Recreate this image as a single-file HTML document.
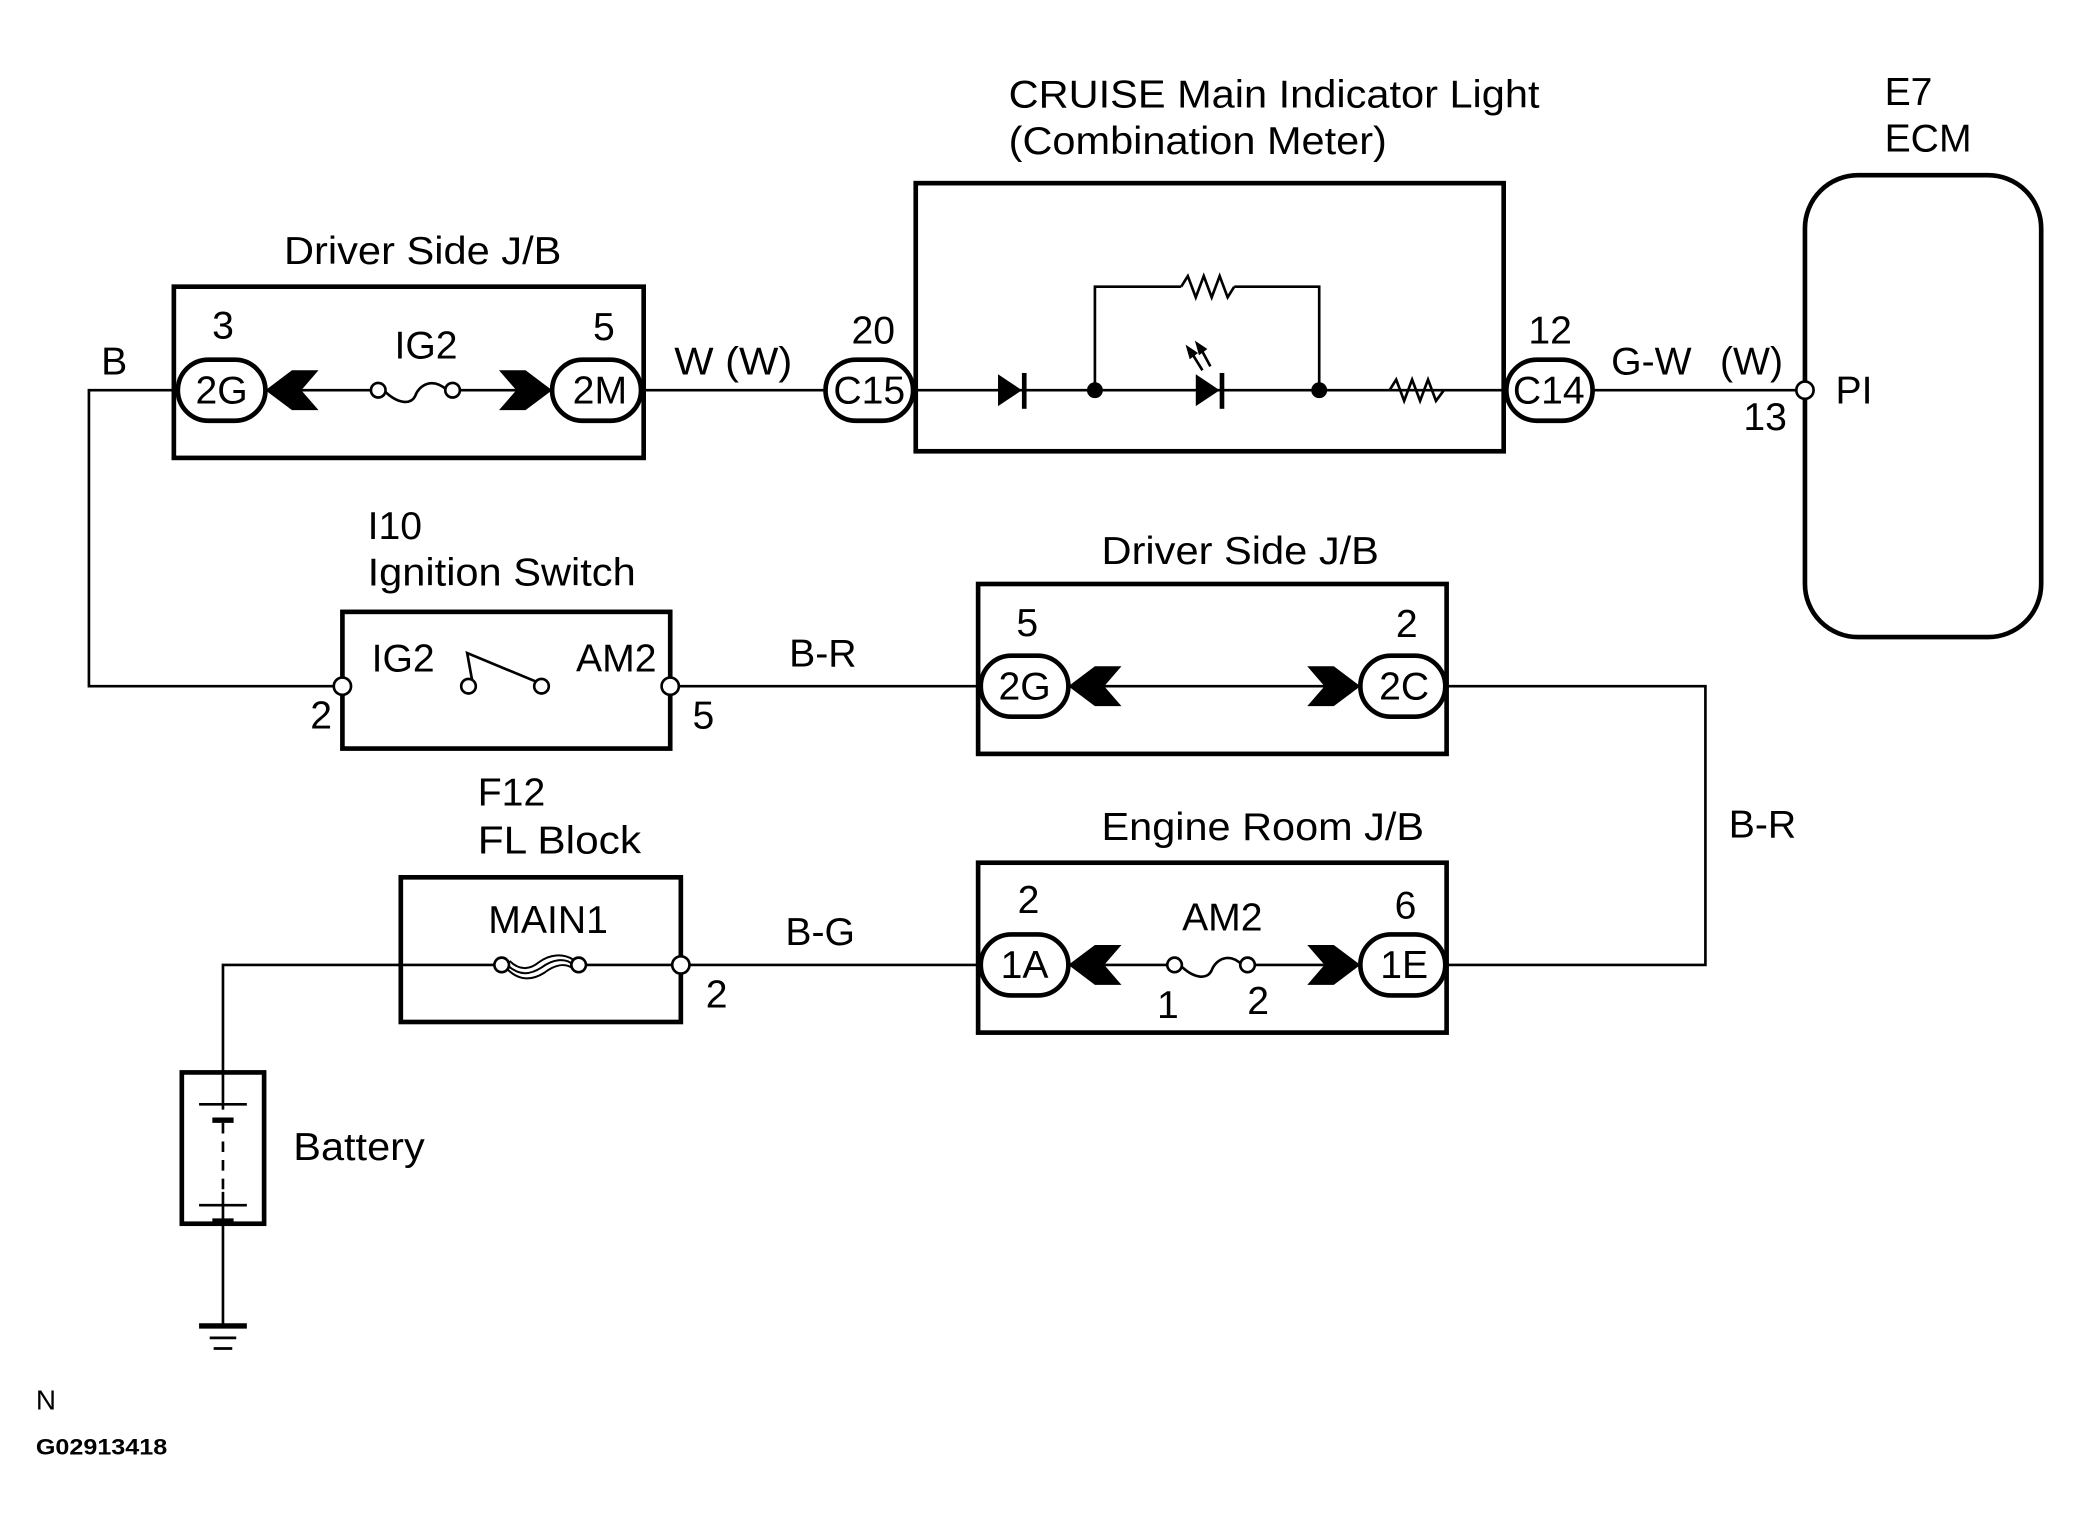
<!DOCTYPE html>
<html><head><style>html,body{margin:0;padding:0;background:#fff}svg{display:block}</style></head>
<body>
<svg width="2081" height="1529" viewBox="0 0 1568 1152" preserveAspectRatio="none" xmlns="http://www.w3.org/2000/svg" font-family="Liberation Sans, Arial, sans-serif" font-size="29.5">
<rect width="1568" height="1152" fill="#fff"/>
<defs>
<g id="chl"><path d="M0,0 L20,-15 L40,-15 L27,0 L40,15 L20,15 Z" fill="#000"/></g>
<g id="chr"><path d="M0,0 L-20,-15 L-40,-15 L-27,0 L-40,15 L-20,15 Z" fill="#000"/></g>
</defs>
<g fill="none" stroke="#000">
<g stroke-width="3.5">
<rect x="131" y="216" width="354" height="129"/>
<rect x="690" y="138" width="443" height="202"/>
<rect x="1360" y="132" width="178" height="348" rx="40"/>
<rect x="258" y="461" width="247" height="103"/>
<rect x="737" y="440" width="353" height="128"/>
<rect x="737" y="650" width="353" height="128"/>
<rect x="302" y="661" width="211" height="109"/>
<rect x="137" y="808" width="62" height="114"/>
</g>
<g stroke-width="2">
<path d="M133,294 H67 V517 H258"/>
<path d="M200,294 H285 M341,294 H416"/>
<path d="M485,294 H622"/>
<path d="M688,294 H1135"/>
<path d="M825,294 V216 H890 M930,216 H994 V294"/>
<path d="M1200,294 H1356"/>
<path d="M505,517 H738 M805,517 H1025 M1090,517 H1285 V727 H1090"/>
<path d="M1025,727 H945 M880,727 H805"/>
<path d="M513,727 H738"/>
<path d="M168,808 V727 H374 M441,727 H509"/>
<path d="M168,922 V998"/>
<path d="M168,808 V836 M168,922 V898"/>
<path d="M289,294 C300,305 310,305 313,298 C316,290 326,284 337,294"/>
<path d="M889,727 C900,738 910,738 913,731 C916,723 926,717 936,727"/>
<path d="M382,727 C392,736 400,734 408,729 C416,723 426,721 432,727 M382,730 C392,740 402,738 410,733 C418,727 426,725 432,730 M384,724 C392,732 400,730 406,725 C414,719 424,718 432,723" stroke-width="1.5"/>
<path d="M890,216 L895,208 L901,224 L907,208 L913,224 L919,208 L925,224 L930,216"/>
<path d="M1047,294 L1052,286 L1058,302 L1064,286 L1070,302 L1076,286 L1082,302 L1088,294"/>
<path d="M356,514 L352,492 L405,514" stroke-width="2"/>
<path d="M150,832 H186 M150,908 H186"/>
<path d="M168,846 V900" stroke-dasharray="8,6"/>
<path d="M158,1008 H178 M161,1016 H175"/>
</g>
<path d="M160,844 H176 M160,920 H176" stroke="#000" stroke-width="4" fill="none"/>
<path d="M150,999 H186" stroke="#000" stroke-width="4" fill="none"/>
<g stroke-width="3.5" fill="#fff">
<rect x="134" y="271" width="66" height="46" rx="23"/>
<rect x="416" y="271" width="67" height="46" rx="23"/>
<rect x="622" y="271" width="66" height="46" rx="23"/>
<rect x="1135" y="271" width="65" height="46" rx="23"/>
<rect x="739" y="494" width="66" height="46" rx="23"/>
<rect x="1025" y="494" width="64" height="46" rx="23"/>
<rect x="739" y="704" width="66" height="46" rx="23"/>
<rect x="1025" y="704" width="64" height="46" rx="23"/>
</g>
<g stroke-width="2" fill="#fff">
<circle cx="285" cy="294" r="5.5"/><circle cx="341" cy="294" r="5.5"/>
<circle cx="1360" cy="294" r="6.5"/>
<circle cx="258" cy="517" r="6.5"/><circle cx="505" cy="517" r="6.5"/>
<circle cx="353" cy="517" r="5.5"/><circle cx="408" cy="517" r="5.5"/>
<circle cx="885" cy="727" r="5.5"/><circle cx="940" cy="727" r="5.5"/>
<circle cx="378" cy="727" r="5.5"/><circle cx="436" cy="727" r="5.5"/>
<circle cx="513" cy="727" r="6.5"/>
</g>
</g>
<use href="#chl" x="200" y="294"/><use href="#chr" x="416" y="294"/>
<use href="#chl" x="805" y="517"/><use href="#chr" x="1025" y="517"/>
<use href="#chl" x="805" y="727"/><use href="#chr" x="1025" y="727"/>
<path d="M752,282 L770,294 L752,306 Z" fill="#000"/><rect x="770" y="281" width="3.5" height="27" fill="#000"/>
<path d="M901,282 L919,294 L901,306 Z" fill="#000"/><rect x="919" y="281" width="3.5" height="27" fill="#000"/>
<path d="M906,279 L898,266 M912,276 L905,263" stroke="#000" stroke-width="2"/>
<path d="M895,262 L901,266 L897,269 Z M902,259 L908,263 L904,266 Z" fill="#000" stroke="#000" stroke-width="2"/>
<circle cx="825" cy="294" r="6" fill="#000"/><circle cx="994" cy="294" r="6" fill="#000"/>
<g fill="#000">
<text x="214" y="199" textLength="209" lengthAdjust="spacingAndGlyphs">Driver Side J/B</text>
<text x="168" y="255" text-anchor="middle">3</text>
<text x="455" y="256" text-anchor="middle">5</text>
<text x="321" y="270" text-anchor="middle">IG2</text>
<text x="167" y="304" text-anchor="middle">2G</text>
<text x="452" y="304" text-anchor="middle">2M</text>
<text x="86" y="282" text-anchor="middle">B</text>
<text x="508" y="282" textLength="89" lengthAdjust="spacingAndGlyphs">W (W)</text>
<text x="658" y="259" text-anchor="middle">20</text>
<text x="655" y="304" text-anchor="middle">C15</text>
<text x="760" y="81" textLength="400" lengthAdjust="spacingAndGlyphs">CRUISE Main Indicator Light</text>
<text x="760" y="116" textLength="285" lengthAdjust="spacingAndGlyphs">(Combination Meter)</text>
<text x="1168" y="259" text-anchor="middle">12</text>
<text x="1167" y="304" text-anchor="middle">C14</text>
<text x="1214" y="282">G-W</text>
<text x="1296" y="282">(W)</text>
<text x="1330" y="324" text-anchor="middle">13</text>
<text x="1383" y="304">PI</text>
<text x="1420" y="79">E7</text>
<text x="1420" y="114">ECM</text>
<text x="277" y="406">I10</text>
<text x="277" y="441" textLength="202" lengthAdjust="spacingAndGlyphs">Ignition Switch</text>
<text x="280" y="506">IG2</text>
<text x="434" y="506">AM2</text>
<text x="242" y="549" text-anchor="middle">2</text>
<text x="530" y="549" text-anchor="middle">5</text>
<text x="620" y="502" text-anchor="middle">B-R</text>
<text x="830" y="425" textLength="209" lengthAdjust="spacingAndGlyphs">Driver Side J/B</text>
<text x="774" y="479" text-anchor="middle">5</text>
<text x="1060" y="480" text-anchor="middle">2</text>
<text x="772" y="527" text-anchor="middle">2G</text>
<text x="1058" y="527" text-anchor="middle">2C</text>
<text x="1328" y="631" text-anchor="middle">B-R</text>
<text x="830" y="633" textLength="243" lengthAdjust="spacingAndGlyphs">Engine Room J/B</text>
<text x="775" y="688" text-anchor="middle">2</text>
<text x="1059" y="692" text-anchor="middle">6</text>
<text x="921" y="701" text-anchor="middle">AM2</text>
<text x="772" y="737" text-anchor="middle">1A</text>
<text x="1058" y="737" text-anchor="middle">1E</text>
<text x="880" y="767" text-anchor="middle">1</text>
<text x="948" y="764" text-anchor="middle">2</text>
<text x="360" y="607">F12</text>
<text x="360" y="643" textLength="123" lengthAdjust="spacingAndGlyphs">FL Block</text>
<text x="413" y="703" text-anchor="middle">MAIN1</text>
<text x="540" y="759" text-anchor="middle">2</text>
<text x="618" y="712" text-anchor="middle">B-G</text>
<text x="221" y="874" textLength="99" lengthAdjust="spacingAndGlyphs">Battery</text>
<text x="27" y="1062" font-size="21">N</text>
<text x="27" y="1096" font-size="17" font-weight="bold" textLength="99" lengthAdjust="spacingAndGlyphs">G02913418</text>
</g>
</svg>
</body></html>
